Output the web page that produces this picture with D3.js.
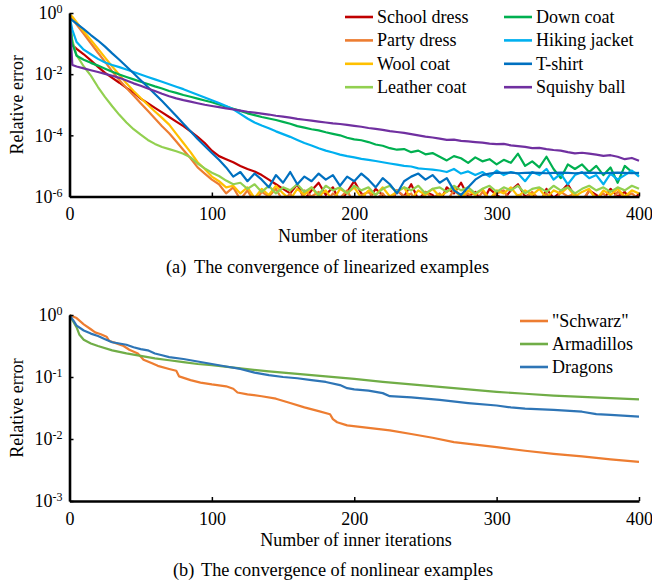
<!DOCTYPE html>
<html>
<head>
<meta charset="utf-8">
<script src="https://cdn.jsdelivr.net/npm/d3@7"></script>
<style>
body { margin: 0; background: #fff; }
svg { display: block; font-family: "Liberation Serif", "Times New Roman", serif; }
</style>
</head>
<body>
<svg id="chart" width="652" height="586"></svg>
<script>
// ---- panel (a): linearized examples, values are log10(relative error)
const iterations = [0, 2].concat(d3.range(5, 401, 5));

const schoolDressExp = [-0.95, -1.05,
	-1.17, -1.35, -1.55, -1.76, -1.96, -2.12, -2.28, -2.45, -2.6, -2.8,
	-2.95, -3.1, -3.25, -3.4, -3.55, -3.7, -3.87, -4.05, -4.25, -4.5,
	-4.68, -4.78, -4.88, -5.0, -5.1, -5.18, -5.3, -5.45, -5.6, -5.75,
	-5.9, -5.6, -6.1, -5.8, -5.55, -5.95, -5.7, -6.2, -5.85, -5.5,
	-5.9, -6.1, -5.75, -5.95, -6.3, -5.8, -6.0, -5.6, -6.1, -5.85,
	-5.95, -6.2, -5.7, -5.9, -5.55, -6.0, -5.85, -6.2, -5.75, -5.95,
	-6.1, -5.8, -5.6, -6.0, -5.9, -6.3, -5.75, -6.05, -5.85, -5.6,
	-6.0, -6.2, -5.8, -5.95, -6.1, -5.75, -6.0, -5.85, -6.2, -5.9];
const partyDressExp = [-0.07, -0.18,
	-0.38, -0.68, -0.99, -1.3, -1.6, -1.91, -2.19, -2.45, -2.7, -2.95,
	-3.2, -3.45, -3.7, -3.93, -4.2, -4.48, -4.75, -5.05, -5.25, -5.45,
	-5.6, -5.9, -5.7, -6.1, -5.8, -6.2, -5.85, -6.0, -5.75, -6.15,
	-5.9, -6.3, -5.8, -6.0, -5.85, -6.2, -5.9, -6.05, -5.8, -6.25,
	-5.95, -5.85, -6.1, -5.9, -6.2, -5.8, -6.0, -5.9, -6.3, -5.85,
	-6.05, -5.9, -6.15, -5.8, -6.0, -5.9, -6.2, -5.85, -6.1, -5.9,
	-5.8, -6.2, -5.95, -6.05, -5.85, -6.1, -5.9, -6.25, -5.85, -6.0,
	-5.9, -6.15, -5.8, -6.05, -5.9, -6.2, -5.85, -6.0, -5.9, -6.1];
const woolCoatExp = [-0.03, -0.12,
	-0.3, -0.6, -0.88, -1.17, -1.46, -1.75, -2.02, -2.3, -2.55, -2.78,
	-3.0, -3.22, -3.43, -3.65, -3.95, -4.25, -4.55, -4.88, -5.1, -5.35,
	-5.5, -5.7, -5.65, -5.9, -5.7, -6.05, -5.75, -5.95, -5.65, -5.9,
	-6.1, -5.75, -5.95, -5.7, -6.0, -5.8, -6.15, -5.75, -5.9, -5.7,
	-6.05, -5.8, -5.95, -5.7, -6.0, -5.85, -5.7, -6.1, -5.8, -5.95,
	-5.75, -6.0, -5.85, -5.7, -6.05, -5.8, -5.95, -5.75, -6.1, -5.8,
	-5.9, -5.7, -6.0, -5.8, -5.95, -5.75, -6.05, -5.8, -5.9, -5.7,
	-6.0, -5.85, -5.75, -6.1, -5.8, -5.95, -5.75, -6.0, -5.8, -5.9];
const leatherCoatExp = [-0.17, -0.9,
	-1.38, -1.75, -2.05, -2.42, -2.75, -3.05, -3.33, -3.58, -3.8, -3.98,
	-4.15, -4.28, -4.38, -4.45, -4.52, -4.6, -4.72, -4.92, -5.08, -5.22,
	-5.33, -5.48, -5.6, -5.55, -5.75, -5.6, -5.85, -5.65, -5.9, -5.7,
	-5.8, -5.6, -5.85, -5.7, -5.95, -5.65, -5.8, -5.7, -5.9, -5.65,
	-5.8, -5.7, -5.95, -5.75, -5.65, -5.85, -5.7, -5.8, -5.65, -5.9,
	-5.75, -5.7, -5.85, -5.65, -5.8, -5.7, -5.9, -5.75, -5.65, -5.85,
	-5.7, -5.8, -5.65, -5.9, -5.75, -5.7, -5.85, -5.65, -5.8, -5.7,
	-5.9, -5.75, -5.65, -5.8, -5.7, -5.85, -5.7, -5.8, -5.65, -5.75];
const downCoatExp = [-0.17, -1.0,
	-1.4, -1.53, -1.63, -1.72, -1.82, -1.92, -2.01, -2.09, -2.17, -2.25,
	-2.32, -2.4, -2.47, -2.55, -2.61, -2.68, -2.74, -2.8, -2.86, -2.92,
	-2.99, -3.06, -3.13, -3.2, -3.28, -3.34, -3.4, -3.45, -3.5, -3.56,
	-3.62, -3.7, -3.75, -3.8, -3.84, -3.9, -3.95, -4.0, -4.08, -4.13,
	-4.16, -4.22, -4.3, -4.34, -4.42, -4.47, -4.45, -4.55, -4.5, -4.62,
	-4.58, -4.7, -4.82, -4.68, -4.75, -4.9, -4.72, -4.85, -4.78, -4.95,
	-4.8, -4.9, -4.6, -5.0, -4.85, -5.05, -4.7, -5.1, -5.4, -4.95,
	-5.1, -4.95, -5.2, -5.0, -5.3, -5.05, -5.55, -5.0, -5.2, -5.25];
const hikingJacketExp = [-0.12, -0.55,
	-0.95, -1.2, -1.35, -1.5, -1.62, -1.7, -1.77, -1.85, -1.93, -2.01,
	-2.09, -2.17, -2.25, -2.33, -2.41, -2.49, -2.58, -2.67, -2.76, -2.85,
	-2.94, -3.04, -3.15, -3.3, -3.45, -3.58, -3.68, -3.77, -3.87, -3.96,
	-4.05, -4.15, -4.25, -4.33, -4.42, -4.5, -4.56, -4.63, -4.68, -4.72,
	-4.77, -4.8, -4.84, -4.88, -4.92, -4.96, -5.0, -5.02, -5.08, -5.1,
	-5.12, -5.15, -5.2, -5.1, -5.25, -5.18, -5.3, -5.2, -5.35, -5.15,
	-5.3, -5.2, -5.25, -5.5, -5.2, -5.3, -5.1, -5.45, -5.25, -5.6,
	-5.3, -5.2, -5.4, -5.3, -5.6, -5.25, -5.45, -5.3, -5.15, -5.35];
const tShirtExp = [-0.17, -0.24,
	-0.35, -0.53, -0.72, -0.9, -1.1, -1.32, -1.53, -1.75, -1.97, -2.2,
	-2.42, -2.65, -2.88, -3.12, -3.37, -3.62, -3.87, -4.12, -4.35, -4.58,
	-4.8, -5.05, -5.35, -5.2, -5.5, -5.25, -5.45, -5.7, -5.3, -5.55,
	-5.2, -5.6, -5.35, -5.5, -5.25, -5.45, -5.3, -5.65, -5.35, -5.5,
	-5.25, -5.45, -5.7, -5.4, -5.6, -5.9, -5.5, -5.35, -5.25, -5.45,
	-5.3, -5.55, -5.4, -5.8, -5.95, -5.7, -5.45, -5.3, -5.25, -5.22,
	-5.23, -5.22, -5.24, -5.23, -5.22, -5.23, -5.24, -5.23, -5.22, -5.23,
	-5.24, -5.23, -5.22, -5.23, -5.24, -5.23, -5.22, -5.23, -5.24, -5.23];
const squishyBallExp = [-0.07, -1.7,
	-1.75, -1.81, -1.87, -1.93, -1.99, -2.05, -2.12, -2.21, -2.3, -2.38,
	-2.47, -2.55, -2.64, -2.72, -2.79, -2.85, -2.9, -2.95, -3.0, -3.04,
	-3.08, -3.12, -3.15, -3.19, -3.23, -3.26, -3.29, -3.32, -3.36, -3.39,
	-3.42, -3.46, -3.49, -3.52, -3.55, -3.58, -3.61, -3.63, -3.66, -3.69,
	-3.72, -3.76, -3.79, -3.82, -3.86, -3.89, -3.92, -3.96, -4.0, -4.04,
	-4.07, -4.11, -4.15, -4.14, -4.18, -4.2, -4.22, -4.24, -4.27, -4.29,
	-4.28, -4.33, -4.35, -4.38, -4.42, -4.41, -4.45, -4.48, -4.5, -4.55,
	-4.59, -4.57, -4.6, -4.63, -4.67, -4.65, -4.7, -4.78, -4.74, -4.83];

const linearNames = ["School dress", "Party dress", "Wool coat", "Leather coat",
	"Down coat", "Hiking jacket", "T-shirt", "Squishy ball"];
const linearColors = ["#c00000", "#ed7d31", "#ffc000", "#92d050",
	"#00b050", "#00b0f0", "#0070c0", "#7030a0"];
const linearExps = [schoolDressExp, partyDressExp, woolCoatExp, leatherCoatExp,
	downCoatExp, hikingJacketExp, tShirtExp, squishyBallExp];

// ---- panel (b): nonlinear examples
const schwarzIter = [0, 5, 10, 15, 18, 22, 26, 28, 32, 38, 42, 48, 52, 58, 62, 70, 75, 77, 85, 92,
	100, 110, 115, 118, 125, 135, 145, 155, 165, 175, 183, 185, 188, 195, 210, 225, 240, 255, 270, 285,
	300, 320, 340, 360, 380, 400];
const schwarzExp = [0, -0.05, -0.15, -0.23, -0.28, -0.31, -0.35, -0.42, -0.45, -0.5,
	-0.56, -0.62, -0.72, -0.78, -0.82, -0.87, -0.9, -0.99, -1.05, -1.09,
	-1.12, -1.15, -1.19, -1.25, -1.28, -1.31, -1.35, -1.42, -1.49, -1.55,
	-1.6, -1.68, -1.73, -1.78, -1.82, -1.86, -1.92, -1.98, -2.05, -2.09,
	-2.13, -2.19, -2.24, -2.28, -2.33, -2.37];
const armadilloIter = [0, 2, 5, 7, 10, 15, 20, 30, 40, 50, 60, 70, 80, 90, 100, 120, 140, 160, 180, 200,
	220, 240, 260, 280, 300, 320, 340, 360, 380, 400];
const armadilloExp = [0, -0.08, -0.2, -0.32, -0.4, -0.46, -0.5, -0.57, -0.62, -0.66,
	-0.7, -0.73, -0.76, -0.79, -0.81, -0.86, -0.91, -0.95, -0.99, -1.03,
	-1.08, -1.12, -1.16, -1.2, -1.24, -1.27, -1.3, -1.32, -1.34, -1.36];
const dragonIter = [0, 3, 5, 10, 15, 20, 25, 30, 35, 40, 45, 50, 55, 60, 65, 70, 80, 90, 100, 110,
	120, 130, 140, 150, 160, 170, 180, 190, 195, 200, 210, 220, 225, 240, 260, 280, 300, 310, 320, 340,
	360, 370, 380, 400];
const dragonExp = [0, -0.1, -0.17, -0.25, -0.3, -0.34, -0.39, -0.44, -0.46, -0.48,
	-0.52, -0.55, -0.57, -0.62, -0.65, -0.68, -0.71, -0.75, -0.79, -0.83,
	-0.87, -0.93, -0.97, -1.0, -1.02, -1.05, -1.08, -1.13, -1.18, -1.2,
	-1.22, -1.26, -1.31, -1.33, -1.37, -1.42, -1.46, -1.49, -1.51, -1.53,
	-1.56, -1.6, -1.61, -1.64];

const nonlinearNames = ['"Schwarz"', "Armadillos", "Dragons"];
const nonlinearColors = ["#ed7d31", "#70ad47", "#2e75b6"];

const xTicks = [0, 100, 200, 300, 400];
const topYTicks = [1, 1e-2, 1e-4, 1e-6];
const bottomYTicks = [1, 1e-1, 1e-2, 1e-3];

const svg = d3.select("#chart");
const FONT = '"Liberation Serif", "Times New Roman", serif';

function drawPanel(cfg) {
	const x = d3.scaleLinear().domain([0, 400]).range([69.5, 639]);
	const y = d3.scaleLog().domain(cfg.yDomain).range([cfg.bottom, cfg.top]);
	const g = svg.append("g");

	g.append("clipPath").attr("id", cfg.id + "-clip")
		.append("rect")
		.attr("x", x(0)).attr("y", cfg.top - 2)
		.attr("width", x(400) - x(0) + 3).attr("height", cfg.bottom - cfg.top + 2);

	const line = d3.line()
		.x(d => x(d[0]))
		.y(d => y(Math.pow(10, d[1])));

	g.append("g").attr("clip-path", `url(#${cfg.id}-clip)`)
		.selectAll("path").data(cfg.series).enter()
		.append("path")
		.attr("d", s => line(d3.zip(s.iters, s.exps)))
		.attr("fill", "none")
		.attr("stroke", s => s.color)
		.attr("stroke-width", 2.2)
		.attr("stroke-linejoin", "round");

	const xAxis = g.append("g")
		.attr("transform", `translate(0,${cfg.bottom})`)
		.call(d3.axisBottom(x).tickValues(xTicks).tickSizeInner(-4).tickSizeOuter(0).tickPadding(10.8))
		.attr("font-size", 18).attr("font-family", FONT);
	xAxis.select(".domain").attr("stroke-width", 2.6);
	xAxis.selectAll(".tick line").attr("stroke-width", 1.5);
	xAxis.selectAll(".tick text").attr("fill", "#000");

	const yAxis = g.append("g")
		.attr("transform", `translate(${x(0)},0)`)
		.call(d3.axisLeft(y).tickValues(cfg.yTicks).tickSizeInner(-4).tickSizeOuter(0)
			.tickPadding(7).tickFormat(() => "10"))
		.attr("font-size", 18).attr("font-family", FONT);
	yAxis.select(".domain").attr("stroke-width", 2.6);
	yAxis.selectAll(".tick line").attr("stroke-width", 1.5);
	yAxis.selectAll(".tick text").attr("fill", "#000")
		.append("tspan")
		.attr("dy", "-0.5em")
		.attr("font-size", 12)
		.text(d => Math.round(Math.log10(d)));

	g.append("text")
		.attr("transform", `translate(23,${(cfg.top + cfg.bottom) / 2}) rotate(-90)`)
		.attr("text-anchor", "middle")
		.attr("font-size", 18)
		.text("Relative error");

	g.append("text")
		.attr("x", cfg.titleX).attr("y", cfg.titleY)
		.attr("text-anchor", "middle")
		.attr("font-size", 18)
		.text(cfg.xTitle);

	const cap = g.append("text").attr("y", cfg.captionY).attr("font-size", 18.3);
	cap.append("tspan").attr("x", cfg.captionX).text(cfg.captionTag);
	cap.append("tspan").attr("x", cfg.captionX + 28).text(cfg.caption);

	const leg = g.append("g").selectAll("g").data(cfg.series).enter()
		.append("g")
		.attr("transform", (s, i) => `translate(${cfg.legendX(i)},${cfg.legendY(i)})`);
	leg.append("line")
		.attr("x1", 0).attr("x2", 28)
		.attr("stroke", s => s.color)
		.attr("stroke-width", 2.6);
	leg.append("text")
		.attr("x", 32).attr("dy", "0.33em")
		.attr("font-size", 18)
		.text(s => s.name);
}

drawPanel({
	id: "lin",
	yDomain: [1e-6, 1], top: 13, bottom: 196.5,
	yTicks: topYTicks,
	series: linearNames.map((n, i) => ({name: n, color: linearColors[i], iters: iterations, exps: linearExps[i]})),
	xTitle: "Number of iterations", titleX: 353, titleY: 242,
	captionTag: "(a)", caption: "The convergence of linearized examples", captionX: 166, captionY: 273,
	legendX: i => i < 4 ? 345 : 504,
	legendY: i => 17 + (i % 4) * 23.4
});

drawPanel({
	id: "nonlin",
	yDomain: [1e-3, 1], top: 315, bottom: 501,
	yTicks: bottomYTicks,
	series: [
		{name: nonlinearNames[0], color: nonlinearColors[0], iters: schwarzIter, exps: schwarzExp},
		{name: nonlinearNames[1], color: nonlinearColors[1], iters: armadilloIter, exps: armadilloExp},
		{name: nonlinearNames[2], color: nonlinearColors[2], iters: dragonIter, exps: dragonExp}
	],
	xTitle: "Number of inner iterations", titleX: 356, titleY: 546,
	captionTag: "(b)", caption: "The convergence of nonlinear examples", captionX: 173, captionY: 576,
	legendX: i => 520,
	legendY: i => 321 + i * 23
});
</script>
</body>
</html>
